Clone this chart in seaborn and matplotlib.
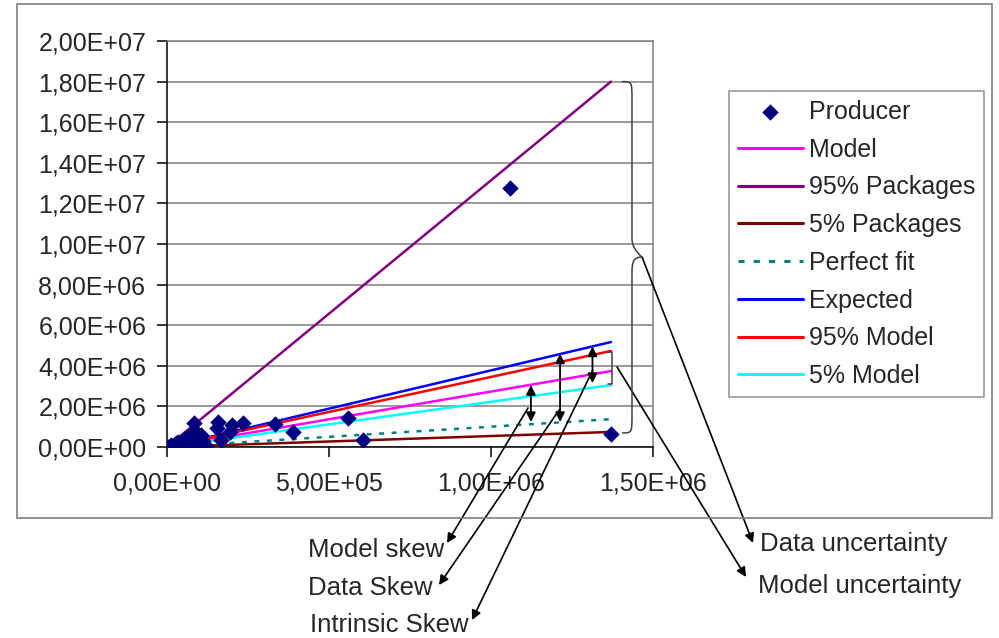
import matplotlib
matplotlib.use("Agg")
import matplotlib.pyplot as plt
import seaborn as sns
import numpy as np
from matplotlib.path import Path
from matplotlib.patches import PathPatch, Rectangle
from matplotlib.ticker import FuncFormatter, MultipleLocator

# producer observations (x, y)
prod_x = [3e3, 8e3, 1.2e4, 1.8e4, 2.2e4, 2.7e4, 3.0e4, 3.5e4, 4.0e4, 4.5e4,
          5.0e4, 5.5e4, 6.0e4, 6.2e4, 6.8e4, 7.2e4, 7.5e4, 8.0e4, 8.5e4, 9.0e4,
          9.5e4, 1.0e5, 1.05e5, 1.1e5, 1.15e5, 1.2e5, 9.0e4, 8.2e4,
          1.54e5, 1.57e5, 1.67e5, 1.95e5, 2.0e5, 2.35e5, 3.33e5, 3.89e5,
          5.59e5, 6.05e5, 1.06e6, 1.37e6]
prod_y = [1e4, 4e4, 8e4, 3e4, 1.2e5, 1.8e5, 6e4, 2.5e5, 1.0e5, 3.0e5,
          1.8e5, 4.0e5, 5e4, 2.8e5, 5.0e5, 1.5e5, 6.2e5, 3.5e5, 8.0e5, 2.2e5,
          4.5e5, 8e4, 6.0e5, 3.0e5, 1.2e5, 4e4, 4e4, 1.18e6,
          9.4e5, 1.23e6, 3.4e5, 7.4e5, 1.08e6, 1.18e6, 1.13e6, 7.4e5,
          1.43e6, 3.4e5, 1.276e7, 6.4e5]

# fitted lines, drawn from the origin to the last producer
line_x = [0, 1.37e6]
series = [
    ("Model", [0, 3.74e6], "#FF00FF", "-"),
    ("95% Packages", [0, 1.80e7], "#800080", "-"),
    ("5% Packages", [0, 7.4e5], "#800000", "-"),
    ("Perfect fit", [0, 1.37e6], "#008080", (0, (2, 3))),
    ("Expected", [0, 5.17e6], "#0000FF", "-"),
    ("95% Model", [0, 4.73e6], "#FF0000", "-"),
    ("5% Model", [0, 3.05e6], "#00FFFF", "-"),
]

sns.set_style("white")
plt.rcParams["font.family"] = ["Liberation Sans", "DejaVu Sans"]

fig = plt.figure(figsize=(9.99, 6.38), dpi=100)
ax = fig.add_axes([0.1672, 0.2994, 0.4865, 0.6363])

sns.scatterplot(x=prod_x, y=prod_y, marker="D", s=70, color="#000080",
                edgecolor="#000080", linewidth=0, label="Producer", ax=ax, zorder=5)
for name, ys, col, ls in series:
    sns.lineplot(x=line_x, y=ys, color=col, linestyle=ls, linewidth=1.8,
                 label=name, ax=ax, zorder=3)

ax.set_xlim(0, 1.5e6)
ax.set_ylim(0, 2.0e7)
ax.yaxis.set_major_locator(MultipleLocator(2e6))
ax.xaxis.set_major_locator(MultipleLocator(5e5))
fmt = FuncFormatter(lambda v, p: f"{v:.2E}".replace(".", ","))
ax.xaxis.set_major_formatter(fmt)
ax.yaxis.set_major_formatter(fmt)
ax.tick_params(axis="both", labelsize=18, direction="out", length=7,
               width=1.1, color="black", left=True, bottom=True)
ax.tick_params(axis="y", pad=8)
ax.tick_params(axis="x", pad=11)
ax.grid(axis="y", color="#7f7f7f", linewidth=1.1)
ax.set_axisbelow(True)
for s in ["top", "right"]:
    ax.spines[s].set_color("#7f7f7f")
    ax.spines[s].set_linewidth(1.1)
for s in ["left", "bottom"]:
    ax.spines[s].set_color("black")
    ax.spines[s].set_linewidth(1.1)

leg = ax.legend(loc="upper left", bbox_to_anchor=(0.7297, 0.857),
                bbox_transform=fig.transFigure, fontsize=18, frameon=True,
                fancybox=False, edgecolor="#7f7f7f", handlelength=2.6,
                handletextpad=0.25, labelspacing=0.55, borderpad=0.35,
                borderaxespad=0)
leg.get_frame().set_linewidth(1.2)
for h in leg.legend_handles[1:]:
    h.set_linewidth(2.2)

# outer chart frame
fig.add_artist(Rectangle((0.017, 0.188), 0.976, 0.806, transform=fig.transFigure,
                         fill=False, edgecolor="#7f7f7f", linewidth=1.2))

# double-headed skew arrows
skews = [(1.123e6, 3.05e6, 1.23e6), (1.213e6, 4.60e6, 1.23e6),
         (1.313e6, 4.95e6, 3.15e6)]
for xs, y0, y1 in skews:
    ax.annotate("", xy=(xs, y1), xytext=(xs, y0),
                arrowprops=dict(arrowstyle="<|-|>", color="black", lw=1.3,
                                mutation_scale=14, shrinkA=0, shrinkB=0))

# big brace (data uncertainty)
def brace(ax, x0, x1, xt, ytop, ymid, ybot, dy):
    verts = [(x0, ytop), (x1, ytop), (x1, ytop), (x1, ytop - dy),
             (x1, ymid + dy),
             (x1, ymid + dy * 0.4), (xt, ymid), (xt, ymid),
             (x1, ymid), (x1, ymid - dy * 0.4), (x1, ymid - dy),
             (x1, ybot + dy),
             (x1, ybot), (x1, ybot), (x0, ybot)]
    codes = [Path.MOVETO, Path.CURVE4, Path.CURVE4, Path.CURVE4,
             Path.LINETO,
             Path.CURVE4, Path.CURVE4, Path.CURVE4,
             Path.CURVE4, Path.CURVE4, Path.CURVE4,
             Path.LINETO,
             Path.CURVE4, Path.CURVE4, Path.CURVE4]
    ax.add_patch(PathPatch(Path(verts, codes), fill=False, edgecolor="#404040",
                           linewidth=1.1, clip_on=False, zorder=4))

brace(ax, 1.404e6, 1.435e6, 1.466e6, 1.80e7, 9.36e6, 0.69e6, 0.9e6)

# small bracket (model uncertainty)
ax.plot([1.361e6, 1.372e6, 1.372e6, 1.361e6], [4.70e6, 4.70e6, 3.10e6, 3.10e6],
        color="#404040", linewidth=1.1, clip_on=False, zorder=4)

# leader lines to labels
def fx(px):
    return px / 999

def fy(py):
    return 1 - py / 638

labels = [
    ("Model skew", (1.114e6, 1.92e6), (447, 543), (308, 550)),
    ("Data Skew", (1.21e6, 1.82e6), (439, 585), (308, 588)),
    ("Intrinsic Skew", (1.314e6, 3.79e6), (472, 620), (310, 625)),
    ("Data uncertainty", (1.466e6, 9.36e6), (753, 543), (760, 544)),
    ("Model uncertainty", (1.389e6, 3.94e6), (746, 577), (758, 586)),
]
for text, start, tip, tpos in labels:
    ax.annotate("", xy=(fx(tip[0]), fy(tip[1])), xycoords="figure fraction",
                xytext=start, textcoords="data",
                arrowprops=dict(arrowstyle="-|>", color="black", lw=1.2,
                                mutation_scale=14, shrinkA=0, shrinkB=0))
    fig.text(fx(tpos[0]), fy(tpos[1]), text, fontsize=18.5, va="center", ha="left")

fig.savefig("out.png", dpi=100)
